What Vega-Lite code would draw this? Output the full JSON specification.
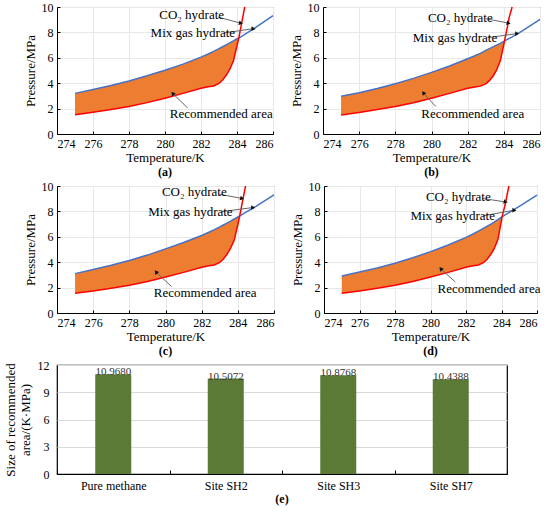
{
  "$schema": "https://vega.github.io/schema/vega-lite/v6.json",
  "padding": {"left": 3, "top": 0, "right": 0, "bottom": 0},
  "background": "white",
  "datasets": {
    "hydrate": [
      {"panel": "(a)", "kind": "curve", "T": 275, "mix": 3.2, "co2": 1.52},
      {"panel": "(a)", "kind": "curve", "T": 276, "mix": 3.5, "co2": 1.72},
      {"panel": "(a)", "kind": "curve", "T": 277, "mix": 3.82, "co2": 1.93},
      {"panel": "(a)", "kind": "curve", "T": 278, "mix": 4.18, "co2": 2.17},
      {"panel": "(a)", "kind": "curve", "T": 279, "mix": 4.58, "co2": 2.47},
      {"panel": "(a)", "kind": "curve", "T": 280, "mix": 5.02, "co2": 2.82},
      {"panel": "(a)", "kind": "curve", "T": 281, "mix": 5.5, "co2": 3.2},
      {"panel": "(a)", "kind": "curve", "T": 282, "mix": 6.05, "co2": 3.6},
      {"panel": "(a)", "kind": "curve", "T": 282.4, "mix": 6.3, "co2": 3.72},
      {"panel": "(a)", "kind": "curve", "T": 282.7, "mix": 6.5, "co2": 3.78},
      {"panel": "(a)", "kind": "curve", "T": 283, "mix": 6.72, "co2": 3.98},
      {"panel": "(a)", "kind": "curve", "T": 283.2, "mix": 6.87, "co2": 4.25},
      {"panel": "(a)", "kind": "curve", "T": 283.4, "mix": 7.02, "co2": 4.62},
      {"panel": "(a)", "kind": "curve", "T": 283.6, "mix": 7.17, "co2": 5.1},
      {"panel": "(a)", "kind": "curve", "T": 283.8, "mix": 7.33, "co2": 5.75},
      {"panel": "(a)", "kind": "curve", "T": 284, "mix": 7.5, "co2": 6.95},
      {"panel": "(a)", "kind": "curve", "T": 284.1, "mix": 7.56, "co2": 7.56},
      {"panel": "(a)", "kind": "curve", "T": 284.2, "mix": 7.65, "co2": 8.3},
      {"panel": "(a)", "kind": "curve", "T": 284.3, "mix": 7.73, "co2": 9.05},
      {"panel": "(a)", "kind": "curve", "T": 284.43, "mix": 7.85, "co2": 10},
      {"panel": "(a)", "kind": "curve", "T": 285, "mix": 8.35, "co2": null},
      {"panel": "(a)", "kind": "curve", "T": 286, "mix": 9.33, "co2": null},

      {"panel": "(b)", "kind": "curve", "T": 275, "mix": 2.97, "co2": 1.5},
      {"panel": "(b)", "kind": "curve", "T": 276, "mix": 3.25, "co2": 1.7},
      {"panel": "(b)", "kind": "curve", "T": 277, "mix": 3.58, "co2": 1.92},
      {"panel": "(b)", "kind": "curve", "T": 278, "mix": 3.95, "co2": 2.16},
      {"panel": "(b)", "kind": "curve", "T": 279, "mix": 4.38, "co2": 2.46},
      {"panel": "(b)", "kind": "curve", "T": 280, "mix": 4.85, "co2": 2.82},
      {"panel": "(b)", "kind": "curve", "T": 281, "mix": 5.35, "co2": 3.2},
      {"panel": "(b)", "kind": "curve", "T": 282, "mix": 5.92, "co2": 3.6},
      {"panel": "(b)", "kind": "curve", "T": 282.4, "mix": 6.16, "co2": 3.7},
      {"panel": "(b)", "kind": "curve", "T": 282.7, "mix": 6.35, "co2": 3.77},
      {"panel": "(b)", "kind": "curve", "T": 283, "mix": 6.58, "co2": 3.95},
      {"panel": "(b)", "kind": "curve", "T": 283.2, "mix": 6.72, "co2": 4.2},
      {"panel": "(b)", "kind": "curve", "T": 283.4, "mix": 6.86, "co2": 4.55},
      {"panel": "(b)", "kind": "curve", "T": 283.6, "mix": 7.0, "co2": 5.05},
      {"panel": "(b)", "kind": "curve", "T": 283.8, "mix": 7.14, "co2": 5.75},
      {"panel": "(b)", "kind": "curve", "T": 284, "mix": 7.3, "co2": 7.05},
      {"panel": "(b)", "kind": "curve", "T": 284.04, "mix": 7.33, "co2": 7.33},
      {"panel": "(b)", "kind": "curve", "T": 284.2, "mix": 7.45, "co2": 8.45},
      {"panel": "(b)", "kind": "curve", "T": 284.3, "mix": 7.53, "co2": 9.2},
      {"panel": "(b)", "kind": "curve", "T": 284.46, "mix": 7.65, "co2": 10},
      {"panel": "(b)", "kind": "curve", "T": 285, "mix": 8.1, "co2": null},
      {"panel": "(b)", "kind": "curve", "T": 286, "mix": 9.02, "co2": null},

      {"panel": "(c)", "kind": "curve", "T": 275, "mix": 3.1, "co2": 1.55},
      {"panel": "(c)", "kind": "curve", "T": 276, "mix": 3.42, "co2": 1.73},
      {"panel": "(c)", "kind": "curve", "T": 277, "mix": 3.76, "co2": 1.94},
      {"panel": "(c)", "kind": "curve", "T": 278, "mix": 4.14, "co2": 2.18},
      {"panel": "(c)", "kind": "curve", "T": 279, "mix": 4.56, "co2": 2.48},
      {"panel": "(c)", "kind": "curve", "T": 280, "mix": 5.05, "co2": 2.83},
      {"panel": "(c)", "kind": "curve", "T": 281, "mix": 5.55, "co2": 3.2},
      {"panel": "(c)", "kind": "curve", "T": 282, "mix": 6.1, "co2": 3.6},
      {"panel": "(c)", "kind": "curve", "T": 282.4, "mix": 6.36, "co2": 3.72},
      {"panel": "(c)", "kind": "curve", "T": 282.7, "mix": 6.56, "co2": 3.78},
      {"panel": "(c)", "kind": "curve", "T": 283, "mix": 6.78, "co2": 3.98},
      {"panel": "(c)", "kind": "curve", "T": 283.2, "mix": 6.93, "co2": 4.25},
      {"panel": "(c)", "kind": "curve", "T": 283.4, "mix": 7.08, "co2": 4.62},
      {"panel": "(c)", "kind": "curve", "T": 283.6, "mix": 7.24, "co2": 5.1},
      {"panel": "(c)", "kind": "curve", "T": 283.8, "mix": 7.4, "co2": 5.75},
      {"panel": "(c)", "kind": "curve", "T": 284, "mix": 7.57, "co2": 6.95},
      {"panel": "(c)", "kind": "curve", "T": 284.1, "mix": 7.63, "co2": 7.63},
      {"panel": "(c)", "kind": "curve", "T": 284.2, "mix": 7.72, "co2": 8.35},
      {"panel": "(c)", "kind": "curve", "T": 284.3, "mix": 7.8, "co2": 9.1},
      {"panel": "(c)", "kind": "curve", "T": 284.43, "mix": 7.92, "co2": 10},
      {"panel": "(c)", "kind": "curve", "T": 285, "mix": 8.4, "co2": null},
      {"panel": "(c)", "kind": "curve", "T": 286, "mix": 9.3, "co2": null},

      {"panel": "(d)", "kind": "curve", "T": 275, "mix": 2.92, "co2": 1.55},
      {"panel": "(d)", "kind": "curve", "T": 276, "mix": 3.22, "co2": 1.73},
      {"panel": "(d)", "kind": "curve", "T": 277, "mix": 3.55, "co2": 1.94},
      {"panel": "(d)", "kind": "curve", "T": 278, "mix": 3.92, "co2": 2.18},
      {"panel": "(d)", "kind": "curve", "T": 279, "mix": 4.35, "co2": 2.48},
      {"panel": "(d)", "kind": "curve", "T": 280, "mix": 4.83, "co2": 2.83},
      {"panel": "(d)", "kind": "curve", "T": 281, "mix": 5.35, "co2": 3.2},
      {"panel": "(d)", "kind": "curve", "T": 282, "mix": 5.95, "co2": 3.6},
      {"panel": "(d)", "kind": "curve", "T": 282.4, "mix": 6.22, "co2": 3.72},
      {"panel": "(d)", "kind": "curve", "T": 282.7, "mix": 6.44, "co2": 3.78},
      {"panel": "(d)", "kind": "curve", "T": 283, "mix": 6.68, "co2": 3.98},
      {"panel": "(d)", "kind": "curve", "T": 283.2, "mix": 6.84, "co2": 4.25},
      {"panel": "(d)", "kind": "curve", "T": 283.4, "mix": 7.0, "co2": 4.62},
      {"panel": "(d)", "kind": "curve", "T": 283.6, "mix": 7.17, "co2": 5.1},
      {"panel": "(d)", "kind": "curve", "T": 283.8, "mix": 7.35, "co2": 5.8},
      {"panel": "(d)", "kind": "curve", "T": 284, "mix": 7.54, "co2": 7.3},
      {"panel": "(d)", "kind": "curve", "T": 284.03, "mix": 7.57, "co2": 7.57},
      {"panel": "(d)", "kind": "curve", "T": 284.2, "mix": 7.72, "co2": 8.5},
      {"panel": "(d)", "kind": "curve", "T": 284.3, "mix": 7.8, "co2": 9.2},
      {"panel": "(d)", "kind": "curve", "T": 284.42, "mix": 7.9, "co2": 10},
      {"panel": "(d)", "kind": "curve", "T": 285, "mix": 8.4, "co2": null},
      {"panel": "(d)", "kind": "curve", "T": 286, "mix": 9.28, "co2": null},

      {"panel": "(a)", "kind": "note", "label": "CO₂ hydrate", "tx": 279.68, "ty": 9.35, "T1": 282.96, "P1": 9.2, "T2": 284.18, "P2": 8.74},
      {"panel": "(a)", "kind": "note", "label": "Mix gas hydrate", "tx": 279.2, "ty": 7.95, "T1": 283.27, "P1": 7.95, "T2": 284.88, "P2": 8.29},
      {"panel": "(a)", "kind": "note", "label": "Recommended  area", "tx": 280.27, "ty": 1.58, "T1": 281.26, "P1": 2.05, "T2": 280.45, "P2": 3.16},
      {"panel": "(b)", "kind": "note", "label": "CO₂ hydrate", "tx": 279.8, "ty": 9.16, "T1": 283.0, "P1": 9.08, "T2": 284.23, "P2": 8.74},
      {"panel": "(b)", "kind": "note", "label": "Mix gas hydrate", "tx": 278.96, "ty": 7.58, "T1": 283.1, "P1": 7.58, "T2": 284.7, "P2": 7.9},
      {"panel": "(b)", "kind": "note", "label": "Recommended  area", "tx": 279.44, "ty": 1.58, "T1": 280.24, "P1": 2.16, "T2": 279.57, "P2": 3.2},
      {"panel": "(c)", "kind": "note", "label": "CO₂ hydrate", "tx": 279.8, "ty": 9.5, "T1": 282.99, "P1": 9.35, "T2": 284.2, "P2": 9.03},
      {"panel": "(c)", "kind": "note", "label": "Mix gas hydrate", "tx": 279.04, "ty": 7.98, "T1": 283.1, "P1": 7.98, "T2": 284.81, "P2": 8.3},
      {"panel": "(c)", "kind": "note", "label": "Recommended  area", "tx": 279.35, "ty": 1.57, "T1": 280.33, "P1": 2.09, "T2": 279.5, "P2": 3.19},
      {"panel": "(d)", "kind": "note", "label": "CO₂ hydrate", "tx": 279.74, "ty": 9.12, "T1": 282.93, "P1": 9.02, "T2": 284.2, "P2": 8.75},
      {"panel": "(d)", "kind": "note", "label": "Mix gas hydrate", "tx": 278.87, "ty": 7.64, "T1": 282.93, "P1": 7.64, "T2": 284.69, "P2": 8.09},
      {"panel": "(d)", "kind": "note", "label": "Recommended  area", "tx": 280.4, "ty": 1.86, "T1": 281.4, "P1": 2.44, "T2": 280.6, "P2": 3.45}
    ],
    "sizes": [
      {"site": "Pure methane", "size": 10.968},
      {"site": "Site SH2", "size": 10.5072},
      {"site": "Site SH3", "size": 10.8768},
      {"site": "Site SH7", "size": 10.4388}
    ]
  },
  "data": {"name": "hydrate"},
  "spacing": 0,
  "vconcat": [
    {
      "spacing": 12,
      "hconcat": [
        {
          "width": 216, "height": 127,
          "title": {"text": "(a)", "orient": "bottom"},
          "transform": [{"filter": "datum.panel == '(a)'"}],
          "layer": [
            {
              "transform": [{"filter": "datum.kind == 'curve' && isValid(datum.co2) && isValid(datum.mix) && datum.co2 <= datum.mix"}],
              "mark": {"type": "area", "color": "#ED7D31", "opacity": 1},
              "encoding": {
                "x": {"field": "T", "type": "quantitative", "title": "Temperature/K", "scale": {"domain": [274, 286], "nice": false}, "axis": {"values": [274, 276, 278, 280, 282, 284, 286]}},
                "y": {"field": "co2", "type": "quantitative", "title": "Pressure/MPa", "scale": {"domain": [0, 10], "nice": false}, "axis": {"values": [0, 2, 4, 6, 8, 10]}},
                "y2": {"field": "mix"}
              }
            },
            {
              "transform": [{"filter": "datum.kind == 'curve'"}, {"fold": ["mix", "co2"], "as": ["series", "P"]}, {"filter": "isValid(datum.P)"}],
              "mark": {"type": "line", "strokeWidth": 1.5},
              "encoding": {
                "x": {"field": "T", "type": "quantitative", "title": "Temperature/K", "scale": {"domain": [274, 286], "nice": false}, "axis": {"values": [274, 276, 278, 280, 282, 284, 286]}},
                "y": {"field": "P", "type": "quantitative", "title": "Pressure/MPa", "scale": {"domain": [0, 10], "nice": false}, "axis": {"values": [0, 2, 4, 6, 8, 10]}},
                "color": {"field": "series", "type": "nominal", "scale": {"domain": ["mix", "co2"], "range": ["#4472C4", "#FF0000"]}, "legend": null}
              }
            },
            {
              "transform": [{"filter": "datum.kind == 'note'"}],
              "mark": {"type": "rule", "color": "#666666", "strokeWidth": 1},
              "encoding": {
                "x": {"field": "T1", "type": "quantitative", "title": "Temperature/K", "scale": {"domain": [274, 286], "nice": false}, "axis": {"values": [274, 276, 278, 280, 282, 284, 286]}},
                "y": {"field": "P1", "type": "quantitative", "title": "Pressure/MPa", "scale": {"domain": [0, 10], "nice": false}, "axis": {"values": [0, 2, 4, 6, 8, 10]}},
                "x2": {"field": "T2"}, "y2": {"field": "P2"}
              }
            },
            {
              "transform": [{"filter": "datum.kind == 'note'"}],
              "mark": {"type": "point", "shape": "triangle", "filled": true, "color": "#111111", "size": 22, "opacity": 1},
              "encoding": {
                "x": {"field": "T2", "type": "quantitative", "title": "Temperature/K", "scale": {"domain": [274, 286], "nice": false}, "axis": {"values": [274, 276, 278, 280, 282, 284, 286]}},
                "y": {"field": "P2", "type": "quantitative", "title": "Pressure/MPa", "scale": {"domain": [0, 10], "nice": false}, "axis": {"values": [0, 2, 4, 6, 8, 10]}},
                "angle": {"field": "label", "type": "nominal", "scale": {"domain": ["CO₂ hydrate", "Mix gas hydrate", "Recommended  area"], "range": [105, 82, 313]}, "legend": null}
              }
            },
            {
              "transform": [{"filter": "datum.kind == 'note'"}],
              "mark": {"type": "text", "align": "left", "baseline": "middle", "fontSize": 13, "color": "black"},
              "encoding": {
                "x": {"field": "tx", "type": "quantitative", "title": "Temperature/K", "scale": {"domain": [274, 286], "nice": false}, "axis": {"values": [274, 276, 278, 280, 282, 284, 286]}},
                "y": {"field": "ty", "type": "quantitative", "title": "Pressure/MPa", "scale": {"domain": [0, 10], "nice": false}, "axis": {"values": [0, 2, 4, 6, 8, 10]}},
                "text": {"field": "label"}
              }
            }
          ]
        },
        {
          "width": 217, "height": 127,
          "title": {"text": "(b)", "orient": "bottom"},
          "transform": [{"filter": "datum.panel == '(b)'"}],
          "layer": [
            {
              "transform": [{"filter": "datum.kind == 'curve' && isValid(datum.co2) && isValid(datum.mix) && datum.co2 <= datum.mix"}],
              "mark": {"type": "area", "color": "#ED7D31", "opacity": 1},
              "encoding": {
                "x": {"field": "T", "type": "quantitative", "title": "Temperature/K", "scale": {"domain": [274, 286], "nice": false}, "axis": {"values": [274, 276, 278, 280, 282, 284, 286]}},
                "y": {"field": "co2", "type": "quantitative", "title": "Pressure/MPa", "scale": {"domain": [0, 10], "nice": false}, "axis": {"values": [0, 2, 4, 6, 8, 10]}},
                "y2": {"field": "mix"}
              }
            },
            {
              "transform": [{"filter": "datum.kind == 'curve'"}, {"fold": ["mix", "co2"], "as": ["series", "P"]}, {"filter": "isValid(datum.P)"}],
              "mark": {"type": "line", "strokeWidth": 1.5},
              "encoding": {
                "x": {"field": "T", "type": "quantitative", "title": "Temperature/K", "scale": {"domain": [274, 286], "nice": false}, "axis": {"values": [274, 276, 278, 280, 282, 284, 286]}},
                "y": {"field": "P", "type": "quantitative", "title": "Pressure/MPa", "scale": {"domain": [0, 10], "nice": false}, "axis": {"values": [0, 2, 4, 6, 8, 10]}},
                "color": {"field": "series", "type": "nominal", "scale": {"domain": ["mix", "co2"], "range": ["#4472C4", "#FF0000"]}, "legend": null}
              }
            },
            {
              "transform": [{"filter": "datum.kind == 'note'"}],
              "mark": {"type": "rule", "color": "#666666", "strokeWidth": 1},
              "encoding": {
                "x": {"field": "T1", "type": "quantitative", "title": "Temperature/K", "scale": {"domain": [274, 286], "nice": false}, "axis": {"values": [274, 276, 278, 280, 282, 284, 286]}},
                "y": {"field": "P1", "type": "quantitative", "title": "Pressure/MPa", "scale": {"domain": [0, 10], "nice": false}, "axis": {"values": [0, 2, 4, 6, 8, 10]}},
                "x2": {"field": "T2"}, "y2": {"field": "P2"}
              }
            },
            {
              "transform": [{"filter": "datum.kind == 'note'"}],
              "mark": {"type": "point", "shape": "triangle", "filled": true, "color": "#111111", "size": 22, "opacity": 1},
              "encoding": {
                "x": {"field": "T2", "type": "quantitative", "title": "Temperature/K", "scale": {"domain": [274, 286], "nice": false}, "axis": {"values": [274, 276, 278, 280, 282, 284, 286]}},
                "y": {"field": "P2", "type": "quantitative", "title": "Pressure/MPa", "scale": {"domain": [0, 10], "nice": false}, "axis": {"values": [0, 2, 4, 6, 8, 10]}},
                "angle": {"field": "label", "type": "nominal", "scale": {"domain": ["CO₂ hydrate", "Mix gas hydrate", "Recommended  area"], "range": [105, 82, 313]}, "legend": null}
              }
            },
            {
              "transform": [{"filter": "datum.kind == 'note'"}],
              "mark": {"type": "text", "align": "left", "baseline": "middle", "fontSize": 13, "color": "black"},
              "encoding": {
                "x": {"field": "tx", "type": "quantitative", "title": "Temperature/K", "scale": {"domain": [274, 286], "nice": false}, "axis": {"values": [274, 276, 278, 280, 282, 284, 286]}},
                "y": {"field": "ty", "type": "quantitative", "title": "Pressure/MPa", "scale": {"domain": [0, 10], "nice": false}, "axis": {"values": [0, 2, 4, 6, 8, 10]}},
                "text": {"field": "label"}
              }
            }
          ]
        }
      ]
    },
    {
      "spacing": 12,
      "hconcat": [
        {
          "width": 217, "height": 127,
          "title": {"text": "(c)", "orient": "bottom"},
          "transform": [{"filter": "datum.panel == '(c)'"}],
          "layer": [
            {
              "transform": [{"filter": "datum.kind == 'curve' && isValid(datum.co2) && isValid(datum.mix) && datum.co2 <= datum.mix"}],
              "mark": {"type": "area", "color": "#ED7D31", "opacity": 1},
              "encoding": {
                "x": {"field": "T", "type": "quantitative", "title": "Temperature/K", "scale": {"domain": [274, 286], "nice": false}, "axis": {"values": [274, 276, 278, 280, 282, 284, 286]}},
                "y": {"field": "co2", "type": "quantitative", "title": "Pressure/MPa", "scale": {"domain": [0, 10], "nice": false}, "axis": {"values": [0, 2, 4, 6, 8, 10]}},
                "y2": {"field": "mix"}
              }
            },
            {
              "transform": [{"filter": "datum.kind == 'curve'"}, {"fold": ["mix", "co2"], "as": ["series", "P"]}, {"filter": "isValid(datum.P)"}],
              "mark": {"type": "line", "strokeWidth": 1.5},
              "encoding": {
                "x": {"field": "T", "type": "quantitative", "title": "Temperature/K", "scale": {"domain": [274, 286], "nice": false}, "axis": {"values": [274, 276, 278, 280, 282, 284, 286]}},
                "y": {"field": "P", "type": "quantitative", "title": "Pressure/MPa", "scale": {"domain": [0, 10], "nice": false}, "axis": {"values": [0, 2, 4, 6, 8, 10]}},
                "color": {"field": "series", "type": "nominal", "scale": {"domain": ["mix", "co2"], "range": ["#4472C4", "#FF0000"]}, "legend": null}
              }
            },
            {
              "transform": [{"filter": "datum.kind == 'note'"}],
              "mark": {"type": "rule", "color": "#666666", "strokeWidth": 1},
              "encoding": {
                "x": {"field": "T1", "type": "quantitative", "title": "Temperature/K", "scale": {"domain": [274, 286], "nice": false}, "axis": {"values": [274, 276, 278, 280, 282, 284, 286]}},
                "y": {"field": "P1", "type": "quantitative", "title": "Pressure/MPa", "scale": {"domain": [0, 10], "nice": false}, "axis": {"values": [0, 2, 4, 6, 8, 10]}},
                "x2": {"field": "T2"}, "y2": {"field": "P2"}
              }
            },
            {
              "transform": [{"filter": "datum.kind == 'note'"}],
              "mark": {"type": "point", "shape": "triangle", "filled": true, "color": "#111111", "size": 22, "opacity": 1},
              "encoding": {
                "x": {"field": "T2", "type": "quantitative", "title": "Temperature/K", "scale": {"domain": [274, 286], "nice": false}, "axis": {"values": [274, 276, 278, 280, 282, 284, 286]}},
                "y": {"field": "P2", "type": "quantitative", "title": "Pressure/MPa", "scale": {"domain": [0, 10], "nice": false}, "axis": {"values": [0, 2, 4, 6, 8, 10]}},
                "angle": {"field": "label", "type": "nominal", "scale": {"domain": ["CO₂ hydrate", "Mix gas hydrate", "Recommended  area"], "range": [105, 82, 313]}, "legend": null}
              }
            },
            {
              "transform": [{"filter": "datum.kind == 'note'"}],
              "mark": {"type": "text", "align": "left", "baseline": "middle", "fontSize": 13, "color": "black"},
              "encoding": {
                "x": {"field": "tx", "type": "quantitative", "title": "Temperature/K", "scale": {"domain": [274, 286], "nice": false}, "axis": {"values": [274, 276, 278, 280, 282, 284, 286]}},
                "y": {"field": "ty", "type": "quantitative", "title": "Pressure/MPa", "scale": {"domain": [0, 10], "nice": false}, "axis": {"values": [0, 2, 4, 6, 8, 10]}},
                "text": {"field": "label"}
              }
            }
          ]
        },
        {
          "width": 213, "height": 127,
          "title": {"text": "(d)", "orient": "bottom"},
          "transform": [{"filter": "datum.panel == '(d)'"}],
          "layer": [
            {
              "transform": [{"filter": "datum.kind == 'curve' && isValid(datum.co2) && isValid(datum.mix) && datum.co2 <= datum.mix"}],
              "mark": {"type": "area", "color": "#ED7D31", "opacity": 1},
              "encoding": {
                "x": {"field": "T", "type": "quantitative", "title": "Temperature/K", "scale": {"domain": [274, 286], "nice": false}, "axis": {"values": [274, 276, 278, 280, 282, 284, 286]}},
                "y": {"field": "co2", "type": "quantitative", "title": "Pressure/MPa", "scale": {"domain": [0, 10], "nice": false}, "axis": {"values": [0, 2, 4, 6, 8, 10]}},
                "y2": {"field": "mix"}
              }
            },
            {
              "transform": [{"filter": "datum.kind == 'curve'"}, {"fold": ["mix", "co2"], "as": ["series", "P"]}, {"filter": "isValid(datum.P)"}],
              "mark": {"type": "line", "strokeWidth": 1.5},
              "encoding": {
                "x": {"field": "T", "type": "quantitative", "title": "Temperature/K", "scale": {"domain": [274, 286], "nice": false}, "axis": {"values": [274, 276, 278, 280, 282, 284, 286]}},
                "y": {"field": "P", "type": "quantitative", "title": "Pressure/MPa", "scale": {"domain": [0, 10], "nice": false}, "axis": {"values": [0, 2, 4, 6, 8, 10]}},
                "color": {"field": "series", "type": "nominal", "scale": {"domain": ["mix", "co2"], "range": ["#4472C4", "#FF0000"]}, "legend": null}
              }
            },
            {
              "transform": [{"filter": "datum.kind == 'note'"}],
              "mark": {"type": "rule", "color": "#666666", "strokeWidth": 1},
              "encoding": {
                "x": {"field": "T1", "type": "quantitative", "title": "Temperature/K", "scale": {"domain": [274, 286], "nice": false}, "axis": {"values": [274, 276, 278, 280, 282, 284, 286]}},
                "y": {"field": "P1", "type": "quantitative", "title": "Pressure/MPa", "scale": {"domain": [0, 10], "nice": false}, "axis": {"values": [0, 2, 4, 6, 8, 10]}},
                "x2": {"field": "T2"}, "y2": {"field": "P2"}
              }
            },
            {
              "transform": [{"filter": "datum.kind == 'note'"}],
              "mark": {"type": "point", "shape": "triangle", "filled": true, "color": "#111111", "size": 22, "opacity": 1},
              "encoding": {
                "x": {"field": "T2", "type": "quantitative", "title": "Temperature/K", "scale": {"domain": [274, 286], "nice": false}, "axis": {"values": [274, 276, 278, 280, 282, 284, 286]}},
                "y": {"field": "P2", "type": "quantitative", "title": "Pressure/MPa", "scale": {"domain": [0, 10], "nice": false}, "axis": {"values": [0, 2, 4, 6, 8, 10]}},
                "angle": {"field": "label", "type": "nominal", "scale": {"domain": ["CO₂ hydrate", "Mix gas hydrate", "Recommended  area"], "range": [105, 82, 313]}, "legend": null}
              }
            },
            {
              "transform": [{"filter": "datum.kind == 'note'"}],
              "mark": {"type": "text", "align": "left", "baseline": "middle", "fontSize": 13, "color": "black"},
              "encoding": {
                "x": {"field": "tx", "type": "quantitative", "title": "Temperature/K", "scale": {"domain": [274, 286], "nice": false}, "axis": {"values": [274, 276, 278, 280, 282, 284, 286]}},
                "y": {"field": "ty", "type": "quantitative", "title": "Pressure/MPa", "scale": {"domain": [0, 10], "nice": false}, "axis": {"values": [0, 2, 4, 6, 8, 10]}},
                "text": {"field": "label"}
              }
            }
          ]
        }
      ]
    },
    {
      "hconcat": [
        {
          "data": {"name": "sizes"},
          "width": 450,
          "height": 109,
          "view": {"stroke": "#000000", "strokeWidth": 1.2},
          "title": {"text": "(e)", "orient": "bottom", "offset": 3},
          "encoding": {
            "x": {
              "field": "site",
              "type": "nominal",
              "sort": null,
              "title": null,
              "scale": {"paddingInner": 0, "paddingOuter": 0},
              "axis": {"labelAngle": 0, "tickBand": "extent", "tickSize": -4, "labelPadding": 10, "grid": false}
            },
            "y": {
              "field": "size",
              "type": "quantitative",
              "title": ["Size of recommended", "area/(K·MPa)"],
              "scale": {"domain": [0, 12], "nice": false},
              "axis": {"values": [0, 3, 6, 9, 12], "grid": true, "gridColor": "#d9d9d9", "tickSize": 0, "labelPadding": 8, "domain": false, "titlePadding": 5}
            }
          },
          "layer": [
            {"mark": {"type": "bar", "color": "#5B7A35", "width": {"band": 0.32}}},
            {
              "mark": {"type": "text", "baseline": "bottom", "dy": 3, "fontSize": 11, "color": "#333333"},
              "encoding": {"text": {"field": "size", "type": "quantitative", "format": ".4f"}}
            }
          ]
        }
      ]
    }
  ],
  "config": {
    "font": "Liberation Serif",
    "view": {"stroke": "#555555", "strokeWidth": 1},
    "title": {"font": "Liberation Serif", "fontSize": 12, "fontWeight": "bold", "color": "black", "offset": 3},
    "text": {"font": "Liberation Serif"},
    "axis": {
      "labelFont": "Liberation Serif",
      "labelFontSize": 12,
      "labelColor": "black",
      "labelOverlap": false,
      "titleFont": "Liberation Serif",
      "titleFontSize": 13,
      "titleFontWeight": "normal",
      "titleColor": "black",
      "domainColor": "black",
      "tickColor": "black",
      "gridColor": "#e8e8e8",
      "grid": true
    },
    "axisQuantitative": {"tickSize": -3, "labelPadding": 7},
    "axisX": {"titlePadding": 2},
    "axisY": {"titlePadding": 4}
  }
}
